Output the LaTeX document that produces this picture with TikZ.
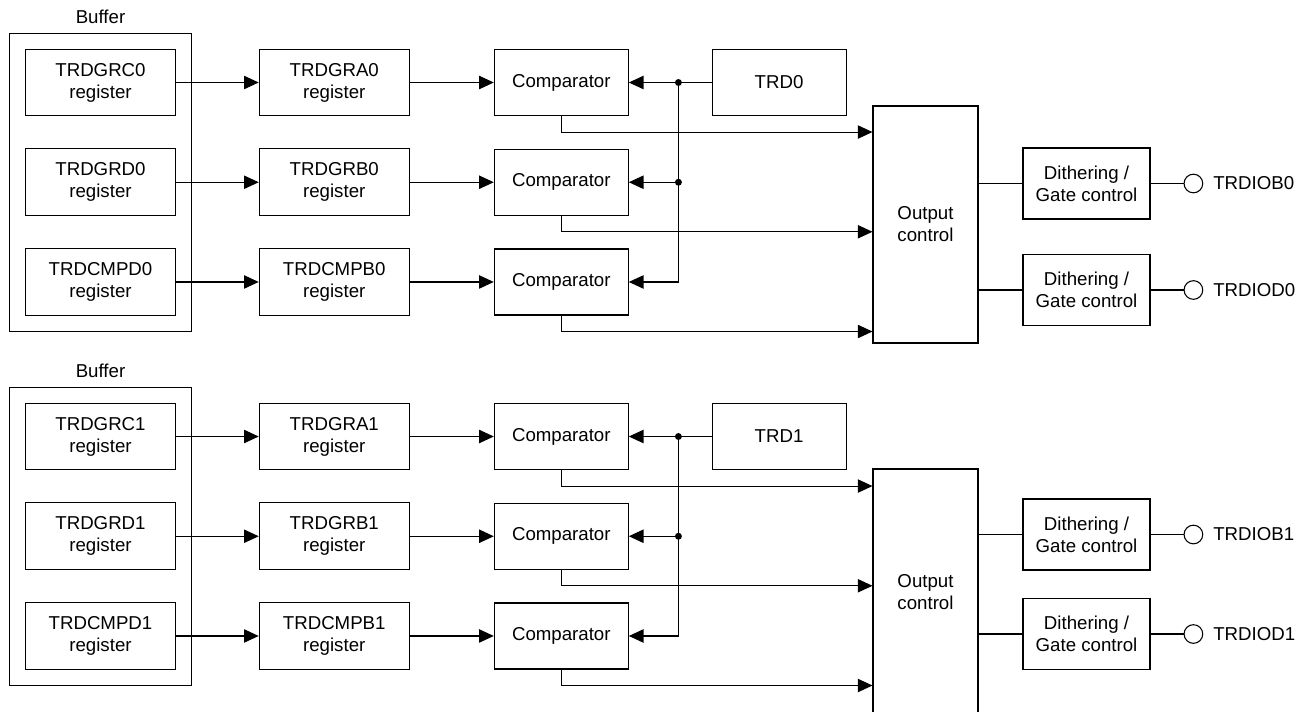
\documentclass[tikz,border=0pt]{standalone}
\usepackage{fontspec}
\setmainfont{Liberation Sans}
\usetikzlibrary{arrows.meta,positioning,fit,calc}
\tikzset{
  reg/.style={draw, line width=0.8pt, align=center, minimum width=112.5pt,
              minimum height=50pt, inner sep=2pt},
  cmp/.style={draw, line width=0.8pt, align=center, minimum width=100.5pt,
              minimum height=49.5pt},
  outc/.style={draw, line width=0.8pt, align=center, minimum width=78.75pt},
  dth/.style={draw, line width=0.8pt, align=center, minimum width=95.25pt,
              minimum height=53.25pt},
  bufbox/.style={draw, line width=0.8pt, inner sep=11.5pt},
  term/.style={draw, circle, line width=0.8pt, minimum size=14pt, inner sep=0pt},
  arrow/.style={-{Triangle[length=11pt, width=10pt]}, line width=0.8pt},
  wire/.style={line width=0.8pt},
}

\begin{document}
\begin{tikzpicture}[x=0.75pt, y=-0.75pt, node distance=24pt and 62pt,
                    font=\fontsize{14}{16.5}\selectfont]
  \useasboundingbox (0,0) rectangle (1309,711);
  \foreach \i/\dy/\ot/\ob/\db/\dd in {0/0/106/343/183.5/290, 1/354/469/715/534.5/634} {
    % registers
    \node[reg] (grc\i) at (100.5,82.5+\dy) {TRDGRC\i\\register};
    \node[reg, below=of grc\i] (grd\i) {TRDGRD\i\\register};
    \node[reg, below=of grd\i] (cmpd\i) {TRDCMPD\i\\register};
    \node[bufbox, fit=(grc\i)(cmpd\i)] (buf\i) {};
    \node[above=3pt of buf\i] (bl\i) {Buffer};
    \node[reg, right=of grc\i] (gra\i) {TRDGRA\i\\register};
    \node[reg, right=of grd\i] (grb\i) {TRDGRB\i\\register};
    \node[reg, right=of cmpd\i] (cmpb\i) {TRDCMPB\i\\register};
    % comparators
    \node[cmp, right=63pt of gra\i] (cmpA\i) {Comparator};
    \node[cmp, right=63pt of grb\i] (cmpB\i) {Comparator};
    \node[cmp, right=63pt of cmpb\i] (cmpC\i) {Comparator};
    \node[cmp, right=62pt of cmpA\i] (trd\i) {TRD\i};
    \node[outc, minimum height={(\ob-\ot)*0.75pt}] (outc\i) at (925.5,{(\ot+\ob)/2}) {Output\\control};
    \node[dth] (dthB\i) at (1086.5,\db) {Dithering /\\Gate control};
    \node[dth] (dthD\i) at (1086.5,\dd) {Dithering /\\Gate control};
    \node[term, right=24.75pt of dthB\i] (tB\i) {};
    \node[term, right=24.75pt of dthD\i] (tD\i) {};
    \node[right=4pt of tB\i] (lB\i) {TRDIOB\i};
    \node[right=4pt of tD\i] (lD\i) {TRDIOD\i};

    \draw[arrow] (grc\i) -- (gra\i);
    \draw[arrow] (grd\i) -- (grb\i);
    \draw[arrow] (cmpd\i) -- (cmpb\i);
    \draw[arrow] (gra\i) -- (cmpA\i);
    \draw[arrow] (grb\i) -- (cmpB\i);
    \draw[arrow] (cmpb\i) -- (cmpC\i);
    % counter value to the comparators
    \coordinate (j\i) at ($(cmpA\i.east)!0.6!(trd\i.west)$);
    \draw[arrow] (trd\i) -- (cmpA\i);
    \draw[arrow] (j\i |- cmpB\i) -- (cmpB\i);
    \draw[arrow] (j\i) |- (cmpC\i);
    \fill (j\i) circle (2.6pt) (j\i |- cmpB\i) circle (2.6pt);
    \draw[arrow] (cmpA\i.south) |- ([yshift=-12pt]cmpA\i.south -| outc\i.west);
    \draw[arrow] (cmpB\i.south) |- ([yshift=-12pt]cmpB\i.south -| outc\i.west);
    \draw[arrow] (cmpC\i.south) |- ([yshift=-12pt]cmpC\i.south -| outc\i.west);
    \draw[wire] (outc\i.east |- dthB\i.west) -- (dthB\i.west);
    \draw[wire] (outc\i.east |- dthD\i.west) -- (dthD\i.west);
    \draw[wire] (dthB\i) -- (tB\i);
    \draw[wire] (dthD\i) -- (tD\i);
  }
\end{tikzpicture}
\end{document}
